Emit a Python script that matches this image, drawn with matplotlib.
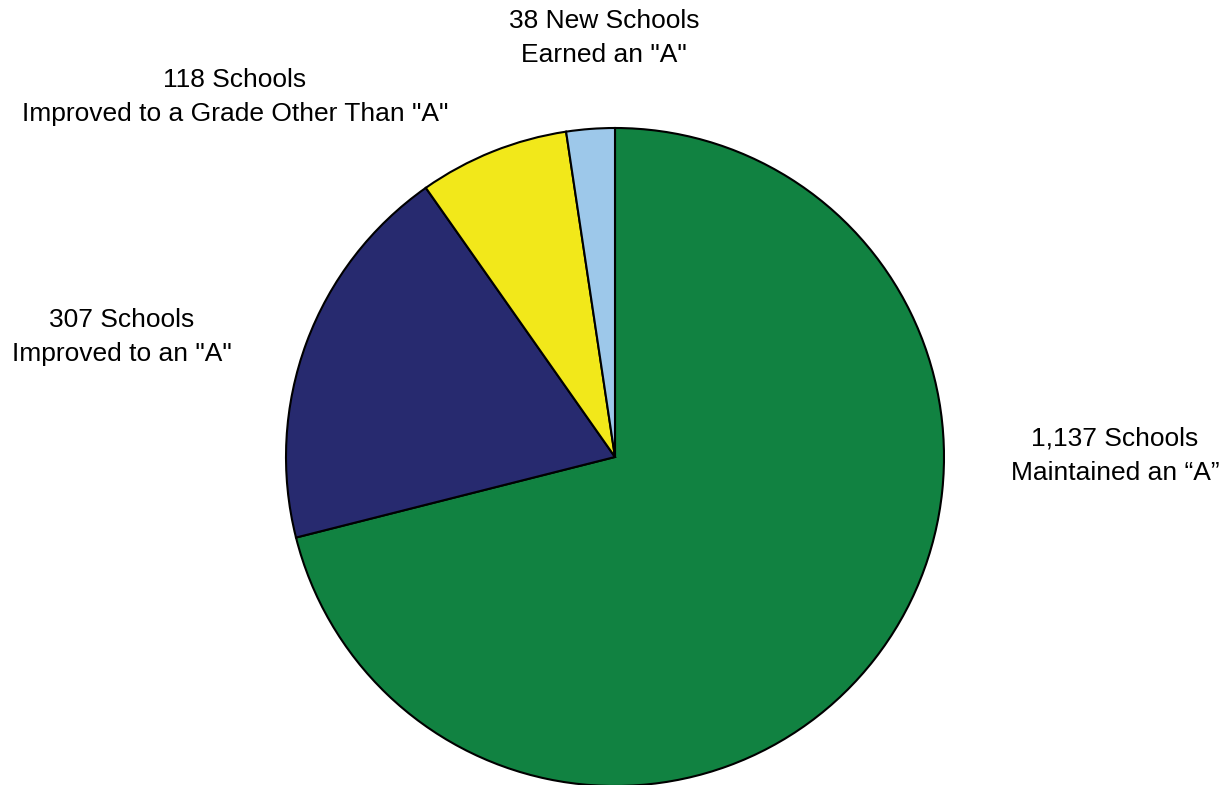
import matplotlib
matplotlib.use("Agg")
import matplotlib.pyplot as plt

counts = [1137, 307, 118, 38]
count_labels = ["1,137 Schools", "307 Schools", "118 Schools", "38 New Schools"]
descriptions = ["Maintained an \u201cA\u201d", "Improved to an \"A\"",
                "Improved to a Grade Other Than \"A\"", "Earned an \"A\""]
colors = ["#118241", "#272A6F", "#F2E81A", "#9DC8EA"]

W, H = 1232, 785
fig = plt.figure(figsize=(W / 100, H / 100), dpi=100)
cx, cy, r = 615, 457, 329
ax = fig.add_axes([(cx - r) / W, (H - cy - r) / H, 2 * r / W, 2 * r / H])
ax.pie(counts, colors=colors, startangle=90, counterclock=False,
       wedgeprops=dict(edgecolor="black", linewidth=1.5), radius=1.0)
ax.set_xlim(-1, 1)
ax.set_ylim(-1, 1)
ax.set_aspect("equal")
ax.axis("off")

positions = [(1115, 456), (122, 337), (235, 97), (604, 38)]
for (x, y), c, d in zip(positions, count_labels, descriptions):
    fig.text(x / W, 1 - y / H, c + "\n" + d, ha="center", va="center",
             fontsize=19, family="Liberation Sans", linespacing=1.55)

fig.savefig("out.png", dpi=100)
